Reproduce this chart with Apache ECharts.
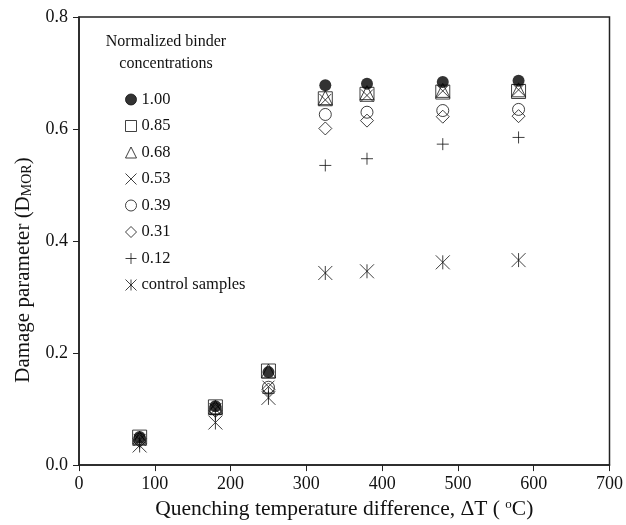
<!DOCTYPE html>
<html>
<head>
<meta charset="utf-8">
<script src="https://cdn.jsdelivr.net/npm/echarts@6/dist/echarts.min.js"></script>
<style>
  html, body { margin: 0; padding: 0; background: #fff; }
  #chart { width: 626px; height: 525px; }
</style>
</head>
<body>
<div id="chart"></div>
<script>
// quenching temperature difference (deg C)
var deltaT = [80, 180, 250, 325, 380, 480, 580];

// damage parameter per normalized binder concentration
var d100 = [0.050, 0.105, 0.166, 0.678, 0.681, 0.684, 0.686];
var d085 = [0.050, 0.104, 0.168, 0.654, 0.662, 0.666, 0.667];
var d068 = [0.048, 0.103, 0.168, 0.656, 0.665, 0.669, 0.670];
var d053 = [0.045, 0.100, 0.140, 0.652, 0.660, 0.668, 0.670];
var d039 = [0.046, 0.100, 0.139, 0.626, 0.630, 0.633, 0.635];
var d031 = [0.043, 0.097, 0.135, 0.601, 0.615, 0.622, 0.623];
var d012 = [0.040, 0.090, 0.128, 0.535, 0.547, 0.573, 0.585];
var dControl = [0.035, 0.076, 0.120, 0.343, 0.346, 0.362, 0.366];

var seriesNames = ['1.00', '0.85', '0.68', '0.53', '0.39', '0.31', '0.12', 'control samples'];
var seriesData = [d100, d085, d068, d053, d039, d031, d012, dControl];

var FONT = '"Liberation Serif", "DejaVu Serif", serif';

// marker styles (hollow ones are see-through like the original)
var markers = [
  { symbol: 'circle', size: 12, filled: true },
  { symbol: 'rect', size: 14 },
  { symbol: 'triangle', size: 14 },
  { symbol: 'path://M0,0L10,10M10,0L0,10', size: 12 },
  { symbol: 'circle', size: 12 },
  { symbol: 'diamond', size: 13 },
  { symbol: 'path://M5,0L5,10M0,5L10,5', size: 12 },
  { symbol: 'path://M0,0L10,10M10,0L0,10M5,0L5,10', size: 14 }
];

function pairs(arr) {
  return arr.map(function (v, i) { return [deltaT[i], v]; });
}

var series = seriesNames.map(function (name, i) {
  var m = markers[i];
  return {
    name: name,
    type: 'scatter',
    data: pairs(seriesData[i]),
    symbol: m.symbol,
    symbolSize: m.size,
    itemStyle: {
      color: m.filled ? '#000' : 'rgba(0,0,0,0)',
      borderColor: '#111',
      borderWidth: m.filled ? 0 : 1
    },
    emphasis: { disabled: true },
    z: 10 - i
  };
});

var myChart = echarts.init(document.getElementById('chart'));
myChart.setOption({
  animation: false,
  backgroundColor: '#fff',
  title: {
    text: 'Normalized binder\nconcentrations',
    left: 166,
    top: 31,
    padding: 0,
    textAlign: 'center',
    textStyle: { fontFamily: FONT, fontSize: 16, fontWeight: 'normal', color: '#111', lineHeight: 22 }
  },
  legend: {
    orient: 'vertical',
    left: 125,
    top: 91,
    padding: 0,
    itemWidth: 11,
    itemHeight: 11,
    itemGap: 9.5,
    selectedMode: false,
    itemStyle: { borderWidth: 1 },
    textStyle: { fontFamily: FONT, fontSize: 16.5, color: '#111', lineHeight: 14 },
    data: seriesNames.map(function (n, i) {
      return { name: n, icon: markers[i].symbol };
    })
  },
  grid: {
    left: 79, right: 15, top: 17, bottom: 59,
    show: true, borderColor: '#222', borderWidth: 1.5, backgroundColor: 'transparent'
  },
  xAxis: {
    type: 'value',
    min: 0, max: 700, interval: 100,
    name: 'Quenching temperature difference, \u0394T ( {sup|o}C)',
    nameLocation: 'middle',
    nameGap: 31,
    nameTextStyle: {
      fontFamily: FONT, fontSize: 21.5, color: '#111',
      rich: { sup: { fontFamily: FONT, fontSize: 13, color: '#111', verticalAlign: 'top', padding: [0, 0, 9, 0] } }
    },
    axisLine: { lineStyle: { color: '#222', width: 1.5 } },
    axisTick: { show: true, length: 6, inside: false, lineStyle: { color: '#222' } },
    axisLabel: { fontFamily: FONT, fontSize: 18, color: '#111', margin: 10 },
    splitLine: { show: false }
  },
  yAxis: {
    type: 'value',
    min: 0, max: 0.8, interval: 0.2,
    name: '{a|Damage parameter (D}{s|MOR}{a|)}',
    nameLocation: 'middle',
    nameGap: 45,
    nameTextStyle: {
      fontFamily: FONT, fontSize: 21, color: '#111',
      padding: [0, 58, 0, 0],
      rich: {
        a: { fontFamily: FONT, fontSize: 21, color: '#111' },
        s: { fontFamily: FONT, fontSize: 14, color: '#111', verticalAlign: 'bottom', padding: [8, 0, 0, 0] }
      }
    },
    axisLine: { show: true, lineStyle: { color: '#222', width: 1.5 } },
    axisTick: { show: true, length: 6, inside: false, lineStyle: { color: '#222' } },
    axisLabel: {
      fontFamily: FONT, fontSize: 18, color: '#111', margin: 11,
      formatter: function (v) { return v.toFixed(1); }
    },
    splitLine: { show: false }
  },
  series: series
});
</script>
</body>
</html>
